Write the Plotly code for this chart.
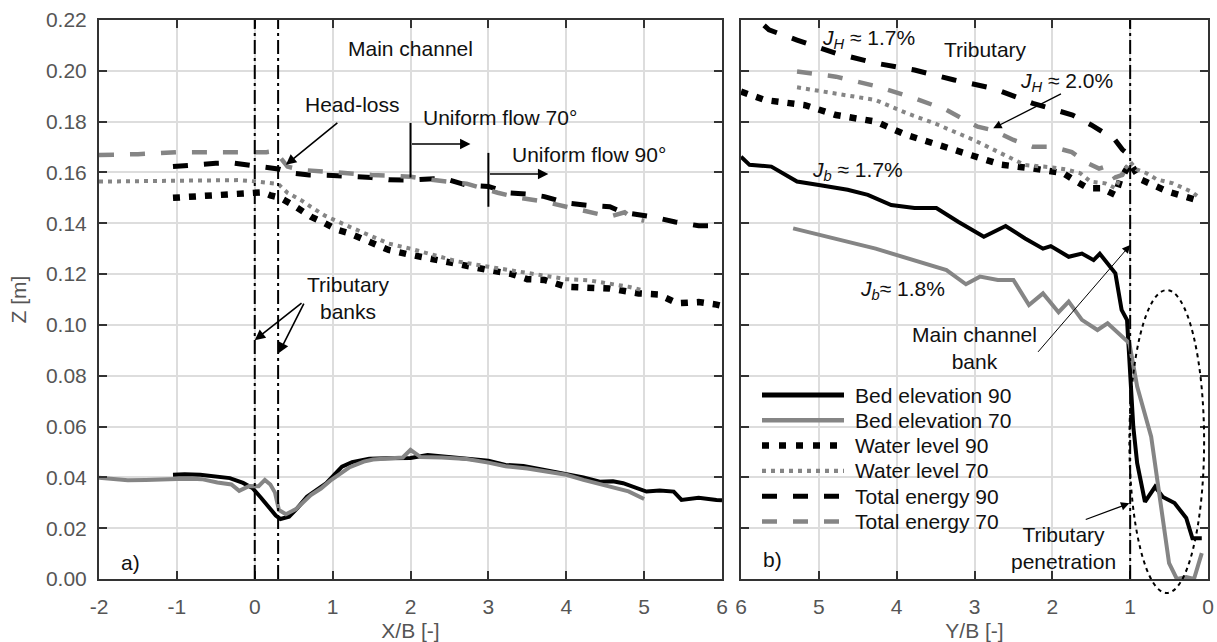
import plotly.graph_objects as go

# ---------------- data: left panel (main channel, X/B) ----------------
X_BED90 = [-1.05, -0.9, -0.7, -0.5, -0.32, -0.15, -0.03, 0.08, 0.18, 0.27, 0.33, 0.44, 0.55, 0.67, 0.8, 0.92,
           1.02, 1.12, 1.25, 1.47, 1.7, 2.0, 2.22, 2.45, 2.72, 3.0, 3.22, 3.45, 3.72, 3.95, 4.22, 4.43, 4.6,
           4.73, 4.9, 5.03, 5.2, 5.38, 5.48, 5.7, 5.93, 6.0]
Z_BED90 = [0.041, 0.0412, 0.041, 0.0405, 0.0397, 0.0378, 0.0358, 0.032, 0.0285, 0.025, 0.0236, 0.0245, 0.028,
           0.0324, 0.0352, 0.0377, 0.041, 0.0442, 0.046, 0.0473, 0.0475, 0.0476, 0.0488, 0.0482, 0.0476, 0.0465,
           0.0449, 0.0445, 0.0429, 0.0415, 0.040, 0.0383, 0.0385, 0.0377, 0.036, 0.0344, 0.0348, 0.0344, 0.0311,
           0.032, 0.0311, 0.031]

X_BED70 = [-2.0, -1.8, -1.63, -1.4, -1.24, -1.0, -0.8, -0.68, -0.48, -0.3, -0.2, -0.07, 0.05, 0.13, 0.2, 0.26,
           0.31, 0.40, 0.53, 0.72, 0.85, 0.97, 1.1, 1.22, 1.4, 1.52, 1.75, 1.9, 2.0, 2.13, 2.4, 2.72, 3.0, 3.22,
           3.5, 3.72, 4.0, 4.22, 4.45, 4.63, 4.8, 5.0]
Z_BED70 = [0.0399, 0.0392, 0.0389, 0.039, 0.0393, 0.0394, 0.0395, 0.0393, 0.038, 0.0372, 0.0347, 0.0366, 0.0365,
           0.039, 0.0372, 0.034, 0.0272, 0.0255, 0.0275, 0.033, 0.0356, 0.0387, 0.0415, 0.044, 0.0462, 0.047,
           0.0475, 0.0478, 0.0508, 0.048, 0.0478, 0.0472, 0.0458, 0.0444, 0.0435, 0.0424, 0.041, 0.039, 0.0372,
           0.0358, 0.0345, 0.0315]

X_WL90 = [-1.05, -0.8, -0.6, -0.33, -0.15, -0.06, 0.1, 0.2, 0.33, 0.5, 0.72, 0.9, 1.05, 1.22, 1.45, 1.72, 2.0,
          2.3, 2.6, 3.0, 3.3, 3.5, 3.72, 4.0, 4.3, 4.56, 4.93, 5.18, 5.43, 5.7, 5.93, 6.0]
Z_WL90 = [0.150, 0.1505, 0.151, 0.1513, 0.152, 0.1524, 0.1522, 0.151, 0.150, 0.147, 0.1426, 0.140, 0.1375, 0.136,
          0.133, 0.1295, 0.1276, 0.126, 0.124, 0.1216, 0.120, 0.118, 0.1177, 0.115, 0.1148, 0.1143, 0.1124, 0.112,
          0.1085, 0.109, 0.108, 0.1075]

X_WL70 = [-2.0, -1.5, -1.0, -0.5, -0.2, 0.0, 0.2, 0.3, 0.42, 0.6, 0.72, 0.9, 1.22, 1.5, 1.72, 2.0, 2.3, 2.6, 3.0,
          3.3, 3.6, 4.0, 4.3, 4.56, 4.8, 5.0]
Z_WL70 = [0.1564, 0.1565, 0.1567, 0.157, 0.157, 0.1565, 0.156, 0.1555, 0.152, 0.149, 0.1465, 0.143, 0.1386, 0.135,
          0.132, 0.130, 0.1275, 0.125, 0.1229, 0.1215, 0.120, 0.118, 0.1175, 0.1164, 0.115, 0.1135]

X_TE90 = [-1.05, -0.8, -0.5, -0.3, -0.1, 0.0, 0.15, 0.3, 0.5, 0.7, 1.0, 1.22, 1.5, 1.72, 2.0, 2.3, 2.5, 2.72, 3.0,
          3.25, 3.5, 3.72, 4.0, 4.3, 4.56, 4.73, 5.1, 5.4, 5.7, 6.0]
Z_TE90 = [0.1623, 0.163, 0.1636, 0.1638, 0.163, 0.163, 0.162, 0.1614, 0.1597, 0.159, 0.1588, 0.1584, 0.158, 0.1571,
          0.157, 0.1575, 0.157, 0.155, 0.1545, 0.152, 0.1515, 0.1505, 0.148, 0.147, 0.1465, 0.1443, 0.1426, 0.1405,
          0.139, 0.139]

X_TE70 = [-2.0, -1.5, -1.0, -0.5, 0.0, 0.15, 0.26, 0.35, 0.42, 0.6, 0.8, 0.97, 1.22, 1.5, 1.72, 2.0, 2.3, 2.72,
          3.12, 3.4, 3.72, 4.0, 4.3, 4.56, 4.75, 4.85, 5.0]
Z_TE70 = [0.1669, 0.1672, 0.168, 0.1681, 0.1683, 0.168, 0.1685, 0.165, 0.1623, 0.161, 0.1605, 0.160, 0.1595, 0.159,
          0.1588, 0.1583, 0.157, 0.1556, 0.152, 0.150, 0.1485, 0.1465, 0.1445, 0.1426, 0.1443, 0.142, 0.141]

# ---------------- data: right panel (tributary, Y/B) ----------------
Y_BED90 = [6.0, 5.89, 5.61, 5.28, 4.98, 4.63, 4.37, 4.07, 3.77, 3.49, 3.21, 2.88, 2.60, 2.35, 2.12, 2.02, 1.79,
           1.62, 1.47, 1.39, 1.19, 1.11, 1.04, 0.99, 0.96, 0.91, 0.81, 0.68, 0.58, 0.43, 0.28, 0.20, 0.08]
ZT_BED90 = [0.1662, 0.163, 0.1623, 0.1564, 0.155, 0.1532, 0.1512, 0.1472, 0.146, 0.146, 0.1406, 0.1347, 0.1389,
            0.134, 0.130, 0.131, 0.1268, 0.1281, 0.1255, 0.128, 0.1203, 0.1059, 0.1019, 0.0757, 0.060, 0.0456,
            0.0304, 0.0363, 0.0323, 0.0299, 0.024, 0.016, 0.016]

Y_BED70 = [5.33, 4.27, 3.36, 3.11, 2.93, 2.70, 2.50, 2.30, 2.12, 1.92, 1.79, 1.62, 1.42, 1.29, 1.01, 0.91, 0.73,
           0.63, 0.50, 0.40, 0.28, 0.18, 0.08]
ZT_BED70 = [0.138, 0.130, 0.1216, 0.116, 0.119, 0.1177, 0.1177, 0.1078, 0.1124, 0.105, 0.1092, 0.102, 0.098,
            0.1006, 0.0928, 0.0757, 0.056, 0.0337, 0.0062, 0.0, 0.0008, 0.0, 0.0102]

Y_WL90 = [6.0, 5.69, 5.18, 4.78, 4.27, 3.87, 3.46, 3.01, 2.65, 2.25, 2.0, 1.86, 1.69, 1.54, 1.37, 1.19, 1.13, 1.0,
          0.87, 0.68, 0.51, 0.32, 0.13]
ZT_WL90 = [0.1918, 0.1885, 0.1865, 0.1826, 0.180, 0.1747, 0.1708, 0.1662, 0.163, 0.1616, 0.1600, 0.1597, 0.1564,
           0.1538, 0.1538, 0.1511, 0.157, 0.1636, 0.1573, 0.1547, 0.1524, 0.1507, 0.149]

Y_WL70 = [5.28, 4.78, 4.27, 3.87, 3.51, 3.01, 2.65, 2.35, 2.0, 1.83, 1.64, 1.51, 1.32, 1.19, 1.09, 1.0, 0.92, 0.79,
          0.66, 0.45, 0.21, 0.1]
ZT_WL70 = [0.1935, 0.1912, 0.1885, 0.1833, 0.1793, 0.1728, 0.1675, 0.1629, 0.162, 0.1612, 0.1597, 0.1564, 0.1557,
           0.1538, 0.1603, 0.1642, 0.1612, 0.1597, 0.1573, 0.1557, 0.1524, 0.1498]

Y_TE90 = [6.0, 5.79, 5.64, 5.28, 4.78, 4.27, 3.77, 3.26, 2.76, 2.25, 1.74, 1.5, 1.35, 1.2, 1.1, 1.04, 1.0]
ZT_TE90 = [0.226, 0.22, 0.2161, 0.2121, 0.2069, 0.203, 0.2003, 0.1964, 0.1931, 0.1872, 0.1826, 0.1787, 0.176,
           0.173, 0.169, 0.1675, 0.1645]

Y_TE70 = [5.28, 4.78, 4.27, 3.77, 3.36, 2.96, 2.76, 2.50, 2.25, 2.0, 1.75, 1.54, 1.4, 1.3, 1.2, 1.1, 1.02]
ZT_TE70 = [0.1997, 0.1977, 0.194, 0.1892, 0.1846, 0.178, 0.1766, 0.1728, 0.1701, 0.1701, 0.168, 0.1636, 0.1615,
           0.1625, 0.158, 0.159, 0.1636]

SERIES_NAMES = ["Bed elevation 90", "Bed elevation 70", "Water level 90", "Water level 70",
                "Total energy 90", "Total energy 70"]

# ticks / ranges
X_LEFT_TICKS = [-2, -1, 0, 1, 2, 3, 4, 5, 6]
X_LEFT_TEXT = ["-2", "-1", "0", "1", "2", "3", "4", "5", "6"]
X_RIGHT_TICKS = [6, 5, 4, 3, 2, 1, 0]
X_RIGHT_TEXT = ["6", "5", "4", "3", "2", "1", "0"]
Z_RANGE = [0.0, 0.22]
X_LEFT_RANGE = [-2, 6]
X_RIGHT_RANGE = [6, 0]

# reference / annotation geometry (data units)
TRIB_BANKS_X = [0.0, 0.3]
MAIN_BANK_Y = 1.0
UNIFORM70 = dict(x=2.0, z0=0.158, z1=0.1795, zarrow=0.1712, xend=2.77)
UNIFORM90 = dict(x=3.0, z0=0.1465, z1=0.1677, zarrow=0.1594, xend=3.77)
ELLIPSE = dict(y0=1.01, y1=0.05, z0=-0.0055, z1=0.1137)

# ---------------- styles ----------------
BLACK = "#000000"
GRAY = "#858585"
STYLES = [
    dict(color=BLACK, width=4),
    dict(color=GRAY, width=4),
    dict(color=BLACK, width=6.5, dash="7px,9px"),
    dict(color=GRAY, width=4, dash="4px,5px"),
    dict(color=BLACK, width=5, dash="15px,16px"),
    dict(color=GRAY, width=4.5, dash="15px,16px"),
]

left_data = [(X_BED90, Z_BED90), (X_BED70, Z_BED70), (X_WL90, Z_WL90), (X_WL70, Z_WL70),
             (X_TE90, Z_TE90), (X_TE70, Z_TE70)]
right_data = [(Y_BED90, ZT_BED90), (Y_BED70, ZT_BED70), (Y_WL90, ZT_WL90), (Y_WL70, ZT_WL70),
              (Y_TE90, ZT_TE90), (Y_TE70, ZT_TE70)]

fig = go.Figure()
# draw order: total energy below, bed on top
order = [4, 5, 2, 3, 0, 1]
for i in order:
    x, z = left_data[i]
    fig.add_trace(go.Scatter(x=x, y=z, mode="lines", line=STYLES[i], name=SERIES_NAMES[i],
                             showlegend=False, xaxis="x", yaxis="y", hoverinfo="skip"))
for i in order:
    x, z = right_data[i]
    fig.add_trace(go.Scatter(x=x, y=z, mode="lines", line=STYLES[i], name=SERIES_NAMES[i],
                             showlegend=False, xaxis="x2", yaxis="y2", hoverinfo="skip"))

# ---------------- layout ----------------
W, H = 1217, 642
ML, MR, MT, MB = 99, 9, 20, 63
PW = W - ML - MR
PH = H - MT - MB
left_dom = [0, (722 - ML) / PW]
right_dom = [(741 - ML) / PW, 1]


def px_x(px):
    return (px - ML) / PW


def px_y(py):
    return (H - MB - py) / PH


FAMILY = "Liberation Sans, Arial, sans-serif"
TICKFONT = dict(family=FAMILY, size=21, color="#555555")
TITLEFONT = dict(family=FAMILY, size=21, color="#555555")
TXT = dict(family=FAMILY, size=21, color="#111111")

common_axis = dict(showgrid=True, gridcolor="#dddddd", gridwidth=1.5, showline=True, linecolor="#333333",
                   linewidth=2, mirror="ticks", ticks="inside", ticklen=8, tickwidth=2, tickcolor="#333333",
                   zeroline=False, tickfont=TICKFONT, automargin=False)

fig.update_layout(
    width=W, height=H, margin=dict(l=ML, r=MR, t=MT, b=MB, autoexpand=False),
    paper_bgcolor="white", plot_bgcolor="white", showlegend=False,
    font=dict(family=FAMILY),
    xaxis=dict(domain=left_dom, range=X_LEFT_RANGE, tickvals=X_LEFT_TICKS, ticktext=X_LEFT_TEXT,
               anchor="y", ticklabelstandoff=8,
               title=dict(text="X/B [-]", font=TITLEFONT, standoff=11), **common_axis),
    yaxis=dict(domain=[0, 1], range=Z_RANGE, dtick=0.02, tickformat=".2f", anchor="x", ticklabelstandoff=6,
               title=dict(text="Z [m]", font=TITLEFONT, standoff=14), **common_axis),
    xaxis2=dict(domain=right_dom, range=X_RIGHT_RANGE, tickvals=X_RIGHT_TICKS, ticktext=X_RIGHT_TEXT,
                anchor="y2", ticklabelstandoff=8,
                title=dict(text="Y/B [-]", font=TITLEFONT, standoff=11), **common_axis),
    yaxis2=dict(domain=[0, 1], range=Z_RANGE, dtick=0.02, matches="y", anchor="x2", showticklabels=False,
                **common_axis),
)

shapes = []
for xb in TRIB_BANKS_X:
    shapes.append(dict(type="line", xref="x", yref="y", x0=xb, x1=xb, y0=Z_RANGE[0], y1=Z_RANGE[1],
                       line=dict(color=BLACK, width=2, dash="14px,4px,3px,4px")))
shapes.append(dict(type="line", xref="x2", yref="y2", x0=MAIN_BANK_Y, x1=MAIN_BANK_Y, y0=Z_RANGE[0],
                   y1=Z_RANGE[1], line=dict(color=BLACK, width=2, dash="14px,4px,3px,4px")))
for u in (UNIFORM70, UNIFORM90):
    shapes.append(dict(type="line", xref="x", yref="y", x0=u["x"], x1=u["x"], y0=u["z0"], y1=u["z1"],
                       line=dict(color=BLACK, width=2)))
zspan = Z_RANGE[1] - Z_RANGE[0]
shapes.append(dict(type="circle", xref="x2", yref="paper", x0=ELLIPSE["y0"], x1=ELLIPSE["y1"],
                   y0=(ELLIPSE["z0"] - Z_RANGE[0]) / zspan, y1=(ELLIPSE["z1"] - Z_RANGE[0]) / zspan,
                   line=dict(color=BLACK, width=2, dash="4px,4px")))

ann = []

# ---- legend (drawn as key lines + labels, inside panel b) ----
LEG_X0, LEG_X1, LEG_TXT_X, LEG_Y0, LEG_DY = 762, 844, 853, 395, 25.3
LEG_STYLES = [
    dict(color=BLACK, width=5),
    dict(color=GRAY, width=4.5),
    dict(color=BLACK, width=6.5, dash="7px,10px"),
    dict(color=GRAY, width=4.3, dash="4px,5px"),
    dict(color=BLACK, width=5, dash="15px,16px"),
    dict(color=GRAY, width=4.5, dash="15px,16px"),
]
for k, name in enumerate(SERIES_NAMES):
    yy = px_y(LEG_Y0 + k * LEG_DY)
    shapes.append(dict(type="line", xref="paper", yref="paper", x0=px_x(LEG_X0), x1=px_x(LEG_X1),
                       y0=yy, y1=yy, line=LEG_STYLES[k]))
    ann.append(dict(x=px_x(LEG_TXT_X), y=yy, xref="paper", yref="paper", text=name, showarrow=False,
                    font=dict(family=FAMILY, size=21, color="#111111"), xanchor="left", yanchor="middle"))

fig.update_layout(shapes=shapes)


def text(x, y, t, ref="", xanchor="center"):
    ann.append(dict(x=x, y=y, xref="x" + ref, yref="y" + ref, text=t, showarrow=False, font=TXT,
                    xanchor=xanchor, yanchor="middle"))


def arrow(x0, y0, x1, y1, ref="", width=1.6, size=1.3):
    ann.append(dict(x=x1, y=y1, ax=x0, ay=y0, xref="x" + ref, yref="y" + ref, axref="x" + ref,
                    ayref="y" + ref, text="", showarrow=True, arrowhead=2, arrowsize=size,
                    arrowwidth=width, arrowcolor=BLACK, standoff=0, startstandoff=0))


text(2.0, 0.2086, "Main channel")
text(1.25, 0.1869, "Head-loss")
text(2.13, 0.1818, "Uniform flow 70°", xanchor="left")
text(3.28, 0.1669, "Uniform flow 90°", xanchor="left")
text(1.2, 0.1106, "Tributary<br>banks")
text(-1.6, 0.0065, "a)")
arrow(1.08, 0.180, 0.40, 0.163)
arrow(UNIFORM70["x"], UNIFORM70["zarrow"], UNIFORM70["xend"], UNIFORM70["zarrow"])
arrow(UNIFORM90["x"], UNIFORM90["zarrow"], UNIFORM90["xend"], UNIFORM90["zarrow"])
arrow(0.62, 0.109, TRIB_BANKS_X[0], 0.094)
arrow(0.64, 0.109, TRIB_BANKS_X[1] + 0.01, 0.0889)

text(4.36, 0.2124, "<i>J<sub>H</sub></i> ≈ 1.7%", ref="2")
text(2.86, 0.2085, "Tributary", ref="2")
text(1.82, 0.1957, "<i>J<sub>H</sub></i> ≈ 2.0%", ref="2")
text(4.5, 0.1607, "<i>J<sub>b</sub></i> ≈ 1.7%", ref="2")
text(3.92, 0.1137, "<i>J<sub>b</sub></i>≈ 1.8%", ref="2")
text(3.0, 0.091, "Main channel<br>bank", ref="2")
text(1.86, 0.0122, "Tributary<br>penetration", ref="2")
text(5.59, 0.0075, "b)", ref="2")
arrow(1.87, 0.1912, 2.76, 0.1774, ref="2", width=1.3)
arrow(2.2, 0.0888, MAIN_BANK_Y, 0.1314, ref="2", width=1.0, size=1.6)
arrow(1.59, 0.0232, MAIN_BANK_Y + 0.01, 0.0298, ref="2", width=1.3)

fig.update_layout(annotations=ann)
fig.write_html("out.html")
